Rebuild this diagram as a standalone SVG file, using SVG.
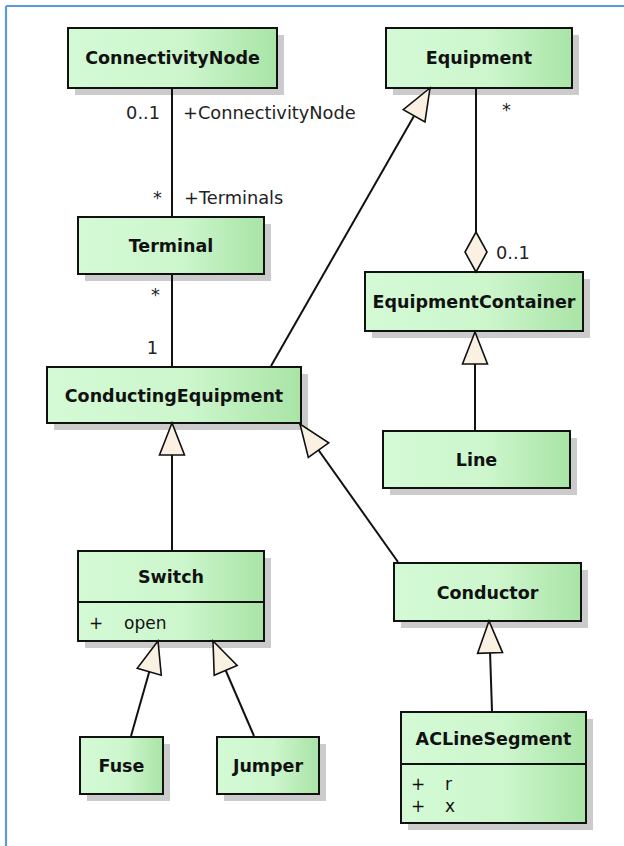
<svg xmlns="http://www.w3.org/2000/svg" width="624" height="846" viewBox="0 0 624 846">
<defs>
  <linearGradient id="g" x1="0" y1="0" x2="1" y2="0">
    <stop offset="0" stop-color="#d3fad5"/>
    <stop offset="0.55" stop-color="#cdf6cd"/>
    <stop offset="1" stop-color="#a9e4a6"/>
  </linearGradient>
  <marker id="gen" markerUnits="userSpaceOnUse" markerWidth="36" markerHeight="30" viewBox="-2 -2 36 29" refX="32" refY="12.5" orient="auto" overflow="visible">
    <path d="M32,12.5 L0,0 L0,25 Z" fill="#fbf1e3" stroke="#111" stroke-width="1.6" stroke-linejoin="miter"/>
  </marker>
  <marker id="agg" markerUnits="userSpaceOnUse" markerWidth="44" markerHeight="26" viewBox="-2 -2 44 26" refX="40" refY="11" orient="auto" overflow="visible">
    <path d="M0,11 L20,0 L40,11 L20,22 Z" fill="#fbf1e3" stroke="#111" stroke-width="1.6"/>
  </marker>
</defs>
<style>
  .sh { fill: #cbcbcb; }
  .box { fill: url(#g); stroke: #111; stroke-width: 2; }
  .div { stroke: #111; stroke-width: 2; }
  .name { font-family: "DejaVu Sans", "Liberation Sans", sans-serif; font-weight: bold; font-size: 17.5px; fill: #111; text-anchor: middle; }
  .attr { font-family: "DejaVu Sans", "Liberation Sans", sans-serif; font-size: 17px; fill: #111; }
  .lbl { font-family: "DejaVu Sans", "Liberation Sans", sans-serif; font-size: 17.8px; fill: #222; }
  .c { fill: none; stroke: #111; stroke-width: 2; }
</style>
<rect x="0" y="0" width="624" height="846" fill="#ffffff"/>
<line x1="6" y1="6" x2="624" y2="6" stroke="#5b9bdc" stroke-width="2.2"/>
<line x1="6" y1="6" x2="6" y2="846" stroke="#5b9bdc" stroke-width="2.2"/>

<g id="ConnectivityNode">
  <rect class="sh" x="75" y="35" width="209" height="60"/>
  <rect class="box" x="68" y="28" width="209" height="60"/>
  <text class="name" x="172.5" y="64">ConnectivityNode</text>
</g>
<g id="Equipment">
  <rect class="sh" x="393" y="35" width="186" height="60"/>
  <rect class="box" x="386" y="28" width="186" height="60"/>
  <text class="name" x="479" y="64">Equipment</text>
</g>
<g id="Terminal">
  <rect class="sh" x="85" y="224" width="186" height="57"/>
  <rect class="box" x="78" y="217" width="186" height="57"/>
  <text class="name" x="171" y="251.5">Terminal</text>
</g>
<g id="EquipmentContainer">
  <rect class="sh" x="372" y="279" width="218" height="59"/>
  <rect class="box" x="365" y="272" width="218" height="59"/>
  <text class="name" x="474" y="307.5">EquipmentContainer</text>
</g>
<g id="ConductingEquipment">
  <rect class="sh" x="54" y="374" width="254" height="56"/>
  <rect class="box" x="47" y="367" width="254" height="56"/>
  <text class="name" x="174" y="401.5">ConductingEquipment</text>
</g>
<g id="Line">
  <rect class="sh" x="390" y="438" width="187" height="57"/>
  <rect class="box" x="383" y="431" width="187" height="57"/>
  <text class="name" x="476.5" y="465.5">Line</text>
</g>
<g id="Switch">
  <rect class="sh" x="85" y="558" width="186" height="90"/>
  <rect class="box" x="78" y="551" width="186" height="90"/>
  <line class="div" x1="78" y1="602" x2="264" y2="602"/>
  <text class="name" x="171" y="582.5">Switch</text>
  <text class="attr" x="89" y="629">+</text>
  <text class="attr" x="124" y="629">open</text>
</g>
<g id="Conductor">
  <rect class="sh" x="401" y="570" width="187" height="58"/>
  <rect class="box" x="394" y="563" width="187" height="58"/>
  <text class="name" x="487.5" y="598.5">Conductor</text>
</g>
<g id="ACLineSegment">
  <rect class="sh" x="408" y="719" width="185" height="111"/>
  <rect class="box" x="401" y="712" width="185" height="111"/>
  <line class="div" x1="401" y1="764" x2="586" y2="764"/>
  <text class="name" x="493.5" y="744.5">ACLineSegment</text>
  <text class="attr" x="411" y="790">+</text>
  <text class="attr" x="445" y="790">r</text>
  <text class="attr" x="411" y="812">+</text>
  <text class="attr" x="445" y="812">x</text>
</g>
<g id="Fuse">
  <rect class="sh" x="87" y="744" width="83" height="57"/>
  <rect class="box" x="80" y="737" width="83" height="57"/>
  <text class="name" x="121.5" y="771.5">Fuse</text>
</g>
<g id="Jumper">
  <rect class="sh" x="224" y="744" width="102" height="57"/>
  <rect class="box" x="217" y="737" width="102" height="57"/>
  <text class="name" x="268" y="771.5">Jumper</text>
</g>

<g id="connectors">
  <path class="c" d="M172,89 L172,216"/>
  <path class="c" d="M172,275 L172,366"/>
  <path class="c" d="M476,89 L476,272" marker-end="url(#agg)"/>
  <path class="c" d="M271,366 L430,88" marker-end="url(#gen)"/>
  <path class="c" d="M172,550 L172,423" marker-end="url(#gen)"/>
  <path class="c" d="M398,562 L300,424" marker-end="url(#gen)"/>
  <path class="c" d="M475,430 L475,332" marker-end="url(#gen)"/>
  <path class="c" d="M492,711 L489,621" marker-end="url(#gen)"/>
  <path class="c" d="M131,736 L158,641" marker-end="url(#gen)"/>
  <path class="c" d="M254,736 L213,641" marker-end="url(#gen)"/>
  <text class="lbl" x="160" y="119" text-anchor="end">0..1</text>
  <text class="lbl" x="183" y="119">+ConnectivityNode</text>
  <text class="lbl" x="162" y="204" text-anchor="end">*</text>
  <text class="lbl" x="184" y="204">+Terminals</text>
  <text class="lbl" x="160" y="301" text-anchor="end">*</text>
  <text class="lbl" x="158" y="354" text-anchor="end">1</text>
  <text class="lbl" x="502" y="116">*</text>
  <text class="lbl" x="496" y="259">0..1</text>
</g>
</svg>
